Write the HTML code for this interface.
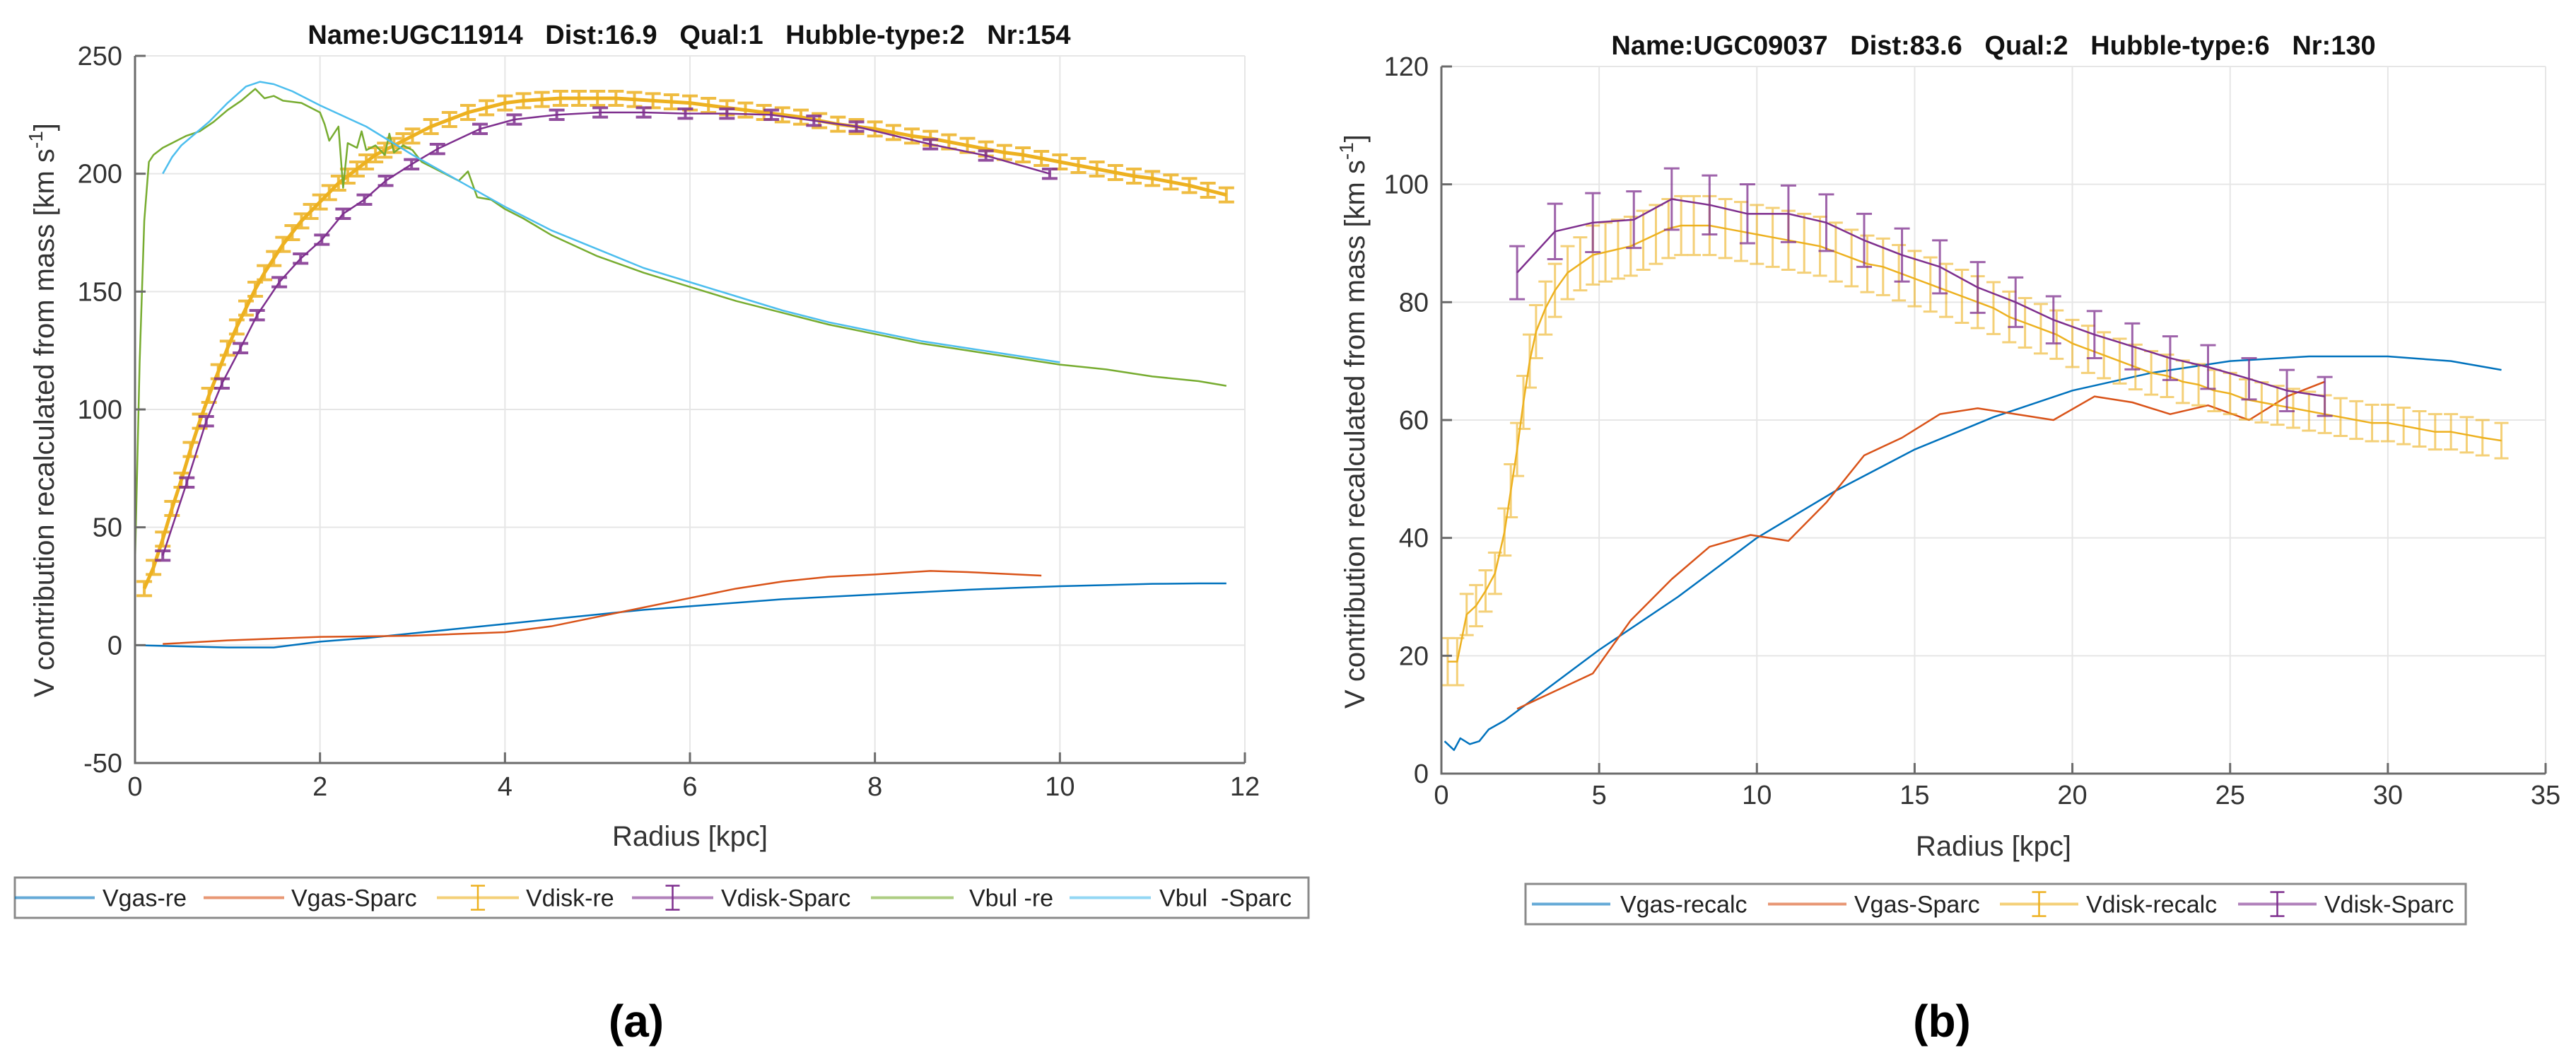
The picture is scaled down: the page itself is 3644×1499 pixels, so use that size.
<!DOCTYPE html>
<html><head><meta charset="utf-8">
<style>
html,body{margin:0;padding:0;background:#fff;}
svg{display:block;}
text{font-family:"Liberation Sans",Arial,sans-serif;}
.pre{white-space:pre;}
</style></head>
<body>
<svg id="fig" width="3644" height="1499" viewBox="0 0 3644 1499" xmlns="http://www.w3.org/2000/svg">
<rect width="3644" height="1499" fill="#fff"/>
<g id="pa"></g>
<g id="pb"></g>
</svg>
<script>
// ---------- Panel (a) data ----------
const aGasReX = [0,0.5,1,1.5,2,2.5,3,3.5,4,4.5,5,5.5,6,6.5,7,7.5,8,8.5,9,9.5,10,10.5,11,11.5,11.8];
const aGasReY = [0,-0.5,-1,-1,1.5,3,5,7,9,11,13,15,16.5,18,19.5,20.5,21.5,22.5,23.5,24.3,25,25.5,26,26.2,26.2];
const aGasSpX = [0.3,1,2,3,4,4.5,5,5.5,6,6.5,7,7.5,8,8.6,9,9.8];
const aGasSpY = [0.5,2,3.5,4,5.5,8,12,16,20,24,27,29,30,31.5,31,29.5];
const aDiskReX = [0.1,0.2,0.3,0.4,0.5,0.6,0.7,0.8,0.9,1.0,1.1,1.2,1.3,1.4,1.5,1.6,1.7,1.8,1.9,2.0,2.1,2.2,2.3,2.4,2.5,2.6,2.7,2.8,2.9,3.0,3.2,3.4,3.6,3.8,4.0,4.2,4.4,4.6,4.8,5.0,5.2,5.4,5.6,5.8,6.0,6.2,6.4,6.6,6.8,7.0,7.2,7.4,7.6,7.8,8.0,8.2,8.4,8.6,8.8,9.0,9.2,9.4,9.6,9.8,10.0,10.2,10.4,10.6,10.8,11.0,11.2,11.4,11.6,11.8];
const aDiskReY = [24,33,45,58,70,83,95,106,116,126,135,143,151,158,164,170,175,180,184,188,192,196,199,202,205,208,210,212,214,216,220,223,226,228,230,231,231.5,232,232,232,232,231.5,231,230.5,230,229,228,227,226,225,224,222.5,221,220,219,217.5,216,215,213.5,212,210.5,209,208,206.5,205,203.5,202,200.5,199,198,196.5,195,193,191];
const aDiskReE = 3;
const aDiskSpX = [0.3,0.56,0.77,0.94,1.14,1.32,1.56,1.79,2.02,2.25,2.48,2.71,2.99,3.27,3.73,4.1,4.56,5.03,5.5,5.95,6.4,6.88,7.34,7.8,8.6,9.2,9.89];
const aDiskSpY = [38,69,95,111,126,140,154,164,172,183,189,197,204,210.5,219,223,225,226,226,225.5,225.5,225,222.5,220,212.5,207.7,200];
const aDiskSpE = 2;
const aBulReX = [0,0.05,0.1,0.15,0.2,0.3,0.4,0.55,0.7,0.85,1.0,1.15,1.3,1.4,1.5,1.6,1.8,2.0,2.05,2.1,2.2,2.25,2.3,2.4,2.45,2.5,2.6,2.7,2.75,2.8,2.9,3.0,3.1,3.2,3.35,3.5,3.6,3.7,3.85,4.0,4.2,4.5,5,5.5,6,6.5,7,7.5,8,8.5,9,9.5,10,10.5,11,11.5,11.8];
const aBulReY = [35,120,180,205,208,211,213,216,218,222,227,231,236,232,233,231,230,226,221,214,220,194,213,211,218,210,212,208,217,209,212,210,205,203,200,197,201,190,189,185,181,174,165,158,152,146,141,136,132,128,125,122,119,117,114,112,110];
const aBulSpX = [0.3,0.4,0.5,0.65,0.8,1.0,1.2,1.35,1.5,1.7,2.0,2.5,3,3.5,4,4.5,5,5.5,6,6.5,7,7.5,8,8.5,9,9.5,10];
const aBulSpY = [200,207,212,217,222,230,237,239,238,235,229,220,208,197,186,176,168,160,154,148,142,137,133,129,126,123,120];
const aXTicks = [0,2,4,6,8,10,12];
const aYTicks = [-50,0,50,100,150,200,250];

// ---------- Panel (b) data ----------
const bGasReX = [0.1,0.4,0.6,0.9,1.2,1.5,2,2.5,5,7.5,10,12.5,15,17.5,20,22.5,25,27.5,30,32,33.6];
const bGasReY = [5.5,4,6,5,5.5,7.5,9,11,21,30,40,48,55,60.5,65,68,70,70.8,70.8,70,68.5];
const bGasSpX = [2.4,3.6,4.8,6,7.3,8.5,9.8,11,12.2,13.4,14.6,15.8,17,18.2,19.4,20.7,21.9,23.1,24.3,25.6,26.8,28];
const bGasSpY = [11,14,17,26,33,38.5,40.5,39.5,46,54,57,61,62,61,60,64,63,61,62.5,60,64,66.5];
const bDiskReX = [0.2,0.5,0.8,1.1,1.4,1.7,2.0,2.2,2.4,2.6,2.8,3.0,3.3,3.6,4.0,4.4,4.8,5.2,5.6,6.0,6.4,6.8,7.2,7.6,8.0,8.5,9.0,9.5,10,10.5,11,11.5,12,12.5,13,13.5,14,14.5,15,15.5,16,16.5,17,17.5,18,18.5,19,19.5,20,20.5,21,21.5,22,22.5,23,23.5,24,24.5,25,25.5,26,26.5,27,27.5,28,28.5,29,29.5,30,30.5,31,31.5,32,32.5,33,33.6];
const bDiskReY = [19,19,27,28.5,31,34,41,48,55,63,70,75,79,82,85,86.5,88,88.5,89,89.5,90.5,91.5,92.5,93,93,93,92.5,92,91.5,91,90.5,90,89.5,88.5,87.5,86.5,86,85,84,83,82,81,80,79,77.5,76.5,75.5,74.5,73,72,71,70,69,68,67.5,66.5,66,65,64.5,63.5,63,62.5,62,61.5,61,60.5,60,59.5,59.5,59,58.5,58,58,57.5,57,56.5];
const bDiskReE = [4,4,3.5,3.5,3.5,3.5,4,4.5,4.5,4.5,4.5,4.5,4.5,4.5,4.5,4.5,5,5,5,5,5,5,5,5,5,5,5,5,5,5,5,5,5,5,4.8,4.8,4.8,4.7,4.7,4.6,4.5,4.5,4.4,4.4,4.3,4.2,4.2,4.1,4,4,3.9,3.8,3.8,3.7,3.6,3.6,3.5,3.5,3.5,3.4,3.4,3.3,3.3,3.3,3.2,3.2,3.2,3.1,3.1,3.1,3,3,3,3,3,3];
const bDiskSpX = [2.4,3.6,4.8,6.1,7.3,8.5,9.7,11,12.2,13.4,14.6,15.8,17,18.2,19.4,20.7,21.9,23.1,24.3,25.6,26.8,28];
const bDiskSpY = [85,92,93.5,94,97.5,96.5,95,95,93.5,90.5,88,86,82.5,80,77,74.5,72.5,70.5,69,67,65,64];
const bDiskSpE = [4.5,4.7,5,4.8,5.2,5,5,4.8,4.8,4.5,4.5,4.5,4.3,4.2,4,4,3.9,3.7,3.7,3.5,3.5,3.3];
const bXTicks = [0,5,10,15,20,25,30,35];
const bYTicks = [0,20,40,60,80,100,120];

const NS='http://www.w3.org/2000/svg';
function mk(parent,tag,attrs){const e=document.createElementNS(NS,tag);for(const k in attrs)e.setAttribute(k,attrs[k]);parent.appendChild(e);return e;}

const C={blue:'#0072BD',orange:'#D95319',yellow:'#EDB120',purple:'#7E2F8E',green:'#77AC30',cyan:'#4DBEEE'};

function axes(g,o){
  const sx=v=>o.x0+(v-o.xmin)/(o.xmax-o.xmin)*(o.x1-o.x0);
  const sy=v=>o.y0-(v-o.ymin)/(o.ymax-o.ymin)*(o.y0-o.y1);
  o.xt.forEach(t=>{const l=mk(g,'line',{x1:sx(t),x2:sx(t),y1:o.y1,y2:o.y0,stroke:'#e6e6e6','stroke-width':2});
    
    });
  o.yt.forEach(t=>{const l=mk(g,'line',{x1:o.x0,x2:o.x1,y1:sy(t),y2:sy(t),stroke:'#e6e6e6','stroke-width':2});
    
    });
  return {sx,sy};
}
function frame(g,o,sx,sy){
  const ax=mk(g,'line',{x1:o.x0,x2:o.x0,y1:o.y1,y2:o.y0+1.5,stroke:'#6b6b6b','stroke-width':3});
  
  
  const bx=mk(g,'line',{x1:o.x0,x2:o.x1,y1:o.y0,y2:o.y0,stroke:'#6b6b6b','stroke-width':3});
  
  
  o.xt.forEach(t=>{
    mk(g,'line',{x1:sx(t),x2:sx(t),y1:o.y0,y2:o.y0-15,stroke:'#6b6b6b','stroke-width':3});
    const tx=mk(g,'text',{x:sx(t),y:o.y0+o.xlOff,'font-size':38,fill:'#333','text-anchor':'middle'});
    tx.textContent=t;
    
    
  });
  o.yt.forEach(t=>{
    mk(g,'line',{x1:o.x0,x2:o.x0+15,y1:sy(t),y2:sy(t),stroke:'#6b6b6b','stroke-width':3});
    const tx=mk(g,'text',{x:o.x0-18,y:sy(t)+13,'font-size':38,fill:'#333','text-anchor':'end'});
    tx.textContent=t;
    
    
  });
  const tt=mk(g,'text',{x:o.tx,y:o.ty,'font-size':38,'font-weight':'bold',fill:'#111','text-anchor':'middle','class':'pre'});
  tt.textContent=o.title;
  
  
  const xl=mk(g,'text',{x:(o.x0+o.x1)/2,y:o.xly,'font-size':40,fill:'#333','text-anchor':'middle'});
  xl.textContent='Radius [kpc]';
  
  
  const yl=mk(g,'text',{x:0,y:0,'font-size':40,fill:'#333','text-anchor':'middle',transform:`translate(${o.ylx},${o.yly}) rotate(-90)`});
  
  
  yl.appendChild(document.createTextNode('V contribution recalculated from mass [km s'));
  const sup=mk(yl,'tspan',{'font-size':28,dy:-16});sup.textContent='-1';
  const cl=mk(yl,'tspan',{dy:16});cl.textContent=']';
  const lab=mk(g,'text',{x:o.labx,y:1466,'font-size':64,'font-weight':'bold',fill:'#000','text-anchor':'middle','font-family':'"Liberation Serif",serif'});
  lab.textContent=o.lab;
  
  
}
function line(g,xs,ys,sx,sy,col,w,name){
  const p=mk(g,'polyline',{points:xs.map((x,i)=>sx(x)+','+sy(ys[i])).join(' '),fill:'none',stroke:col,'stroke-width':w,'stroke-linejoin':'round'});
  
  
}
function errs(g,xs,ys,es,sx,sy,col,cap,w,name,op){
  const gg=mk(g,'g',{stroke:col,'stroke-width':w,opacity:op});
  
  
  xs.forEach((x,i)=>{
    const e=Array.isArray(es)?es[i]:es;
    const X=sx(x),a=sy(ys[i]+e),b=sy(ys[i]-e);
    mk(gg,'line',{x1:X,x2:X,y1:a,y2:b});
    mk(gg,'line',{x1:X-cap,x2:X+cap,y1:a,y2:a});
    mk(gg,'line',{x1:X-cap,x2:X+cap,y1:b,y2:b});
  });
}
function legend(g,o,items){
  const r=mk(g,'rect',{x:o.x,y:o.y,width:o.w,height:o.h,fill:'#fff',stroke:'#8a8a8a','stroke-width':3});
  
  
  items.forEach(it=>{
    const eg=mk(g,'g',{});
    
    
    const cy=o.y+o.h/2;
    mk(eg,'line',{x1:it.l0,x2:it.l1,y1:cy,y2:cy,stroke:it.c,'stroke-width':4,opacity:0.6});
    if(it.eb){const m=(it.l0+it.l1)/2;
      mk(eg,'line',{x1:m,x2:m,y1:cy-17,y2:cy+17,stroke:it.c,'stroke-width':2.5});
      mk(eg,'line',{x1:m-10,x2:m+10,y1:cy-17,y2:cy-17,stroke:it.c,'stroke-width':2.5});
      mk(eg,'line',{x1:m-10,x2:m+10,y1:cy+17,y2:cy+17,stroke:it.c,'stroke-width':2.5});}
    const t=mk(eg,'text',{x:it.tx,y:cy+12,'font-size':34,fill:'#222','class':'pre'});
    t.textContent=it.t;
  });
}

// ---------- Panel (a) ----------
(function(){
  const g=document.getElementById('pa');
  const o={x0:191,x1:1761,y0:1079,y1:79,xmin:0,xmax:12,ymin:-50,ymax:250,xt:aXTicks,yt:aYTicks,xlOff:46,
    title:'Name:UGC11914   Dist:16.9   Qual:1   Hubble-type:2   Nr:154',tx:975,ty:62,xly:1196,ylx:76,yly:580,labx:900,lab:'(a)'};
  const {sx,sy}=axes(g,o);
  line(g,aGasReX,aGasReY,sx,sy,C.blue,2.5,'vgas-re-line');
  line(g,aGasSpX,aGasSpY,sx,sy,C.orange,2.5,'vgas-sparc-line');
  errs(g,aDiskReX,aDiskReY,aDiskReE,sx,sy,C.yellow,11,4,'vdisk-re-errorbars',0.85);
  line(g,aDiskReX,aDiskReY,sx,sy,C.yellow,5,'vdisk-re-line');
  errs(g,aDiskSpX,aDiskSpY,aDiskSpE,sx,sy,C.purple,11,4,'vdisk-sparc-errorbars',0.85);
  line(g,aDiskSpX,aDiskSpY,sx,sy,C.purple,2.5,'vdisk-sparc-line');
  line(g,aBulReX,aBulReY,sx,sy,C.green,2.5,'vbul-re-line');
  line(g,aBulSpX,aBulSpY,sx,sy,C.cyan,2.5,'vbul-sparc-line');
  frame(g,o,sx,sy);
  legend(g,{x:21,y:1241,w:1830,h:57},[
    {l0:21,l1:134,tx:145,t:'Vgas-re',c:C.blue},
    {l0:288,l1:402,tx:412,t:'Vgas-Sparc',c:C.orange},
    {l0:618,l1:734,tx:744,t:'Vdisk-re',c:C.yellow,eb:1},
    {l0:894,l1:1009,tx:1020,t:'Vdisk-Sparc',c:C.purple,eb:1},
    {l0:1232,l1:1349,tx:1371,t:'Vbul -re',c:C.green},
    {l0:1513,l1:1628,tx:1640,t:'Vbul  -Sparc',c:C.cyan}]);
})();

// ---------- Panel (b) ----------
(function(){
  const g=document.getElementById('pb');
  const o={x0:2039,x1:3601,y0:1094,y1:94,xmin:0,xmax:35,ymin:0,ymax:120,xt:bXTicks,yt:bYTicks,xlOff:43,
    title:'Name:UGC09037   Dist:83.6   Qual:2   Hubble-type:6   Nr:130',tx:2820,ty:77,xly:1210,ylx:1930,yly:596,labx:2747,lab:'(b)'};
  const {sx,sy}=axes(g,o);
  line(g,bGasReX,bGasReY,sx,sy,C.blue,2.5,'vgas-recalc-line');
  line(g,bGasSpX,bGasSpY,sx,sy,C.orange,2.5,'vgas-sparc-line');
  errs(g,bDiskReX,bDiskReY,bDiskReE,sx,sy,C.yellow,10,3,'vdisk-recalc-errorbars',0.6);
  line(g,bDiskReX,bDiskReY,sx,sy,C.yellow,2.5,'vdisk-recalc-line');
  errs(g,bDiskSpX,bDiskSpY,bDiskSpE,sx,sy,C.purple,11,3,'vdisk-sparc-errorbars',0.75);
  line(g,bDiskSpX,bDiskSpY,sx,sy,C.purple,2.5,'vdisk-sparc-line');
  frame(g,o,sx,sy);
  legend(g,{x:2158,y:1250,w:1330,h:57},[
    {l0:2167,l1:2278,tx:2292,t:'Vgas-recalc',c:C.blue},
    {l0:2501,l1:2612,tx:2623,t:'Vgas-Sparc',c:C.orange},
    {l0:2829,l1:2940,tx:2951,t:'Vdisk-recalc',c:C.yellow,eb:1},
    {l0:3166,l1:3277,tx:3288,t:'Vdisk-Sparc',c:C.purple,eb:1}]);
})();
</script>
</body></html>
